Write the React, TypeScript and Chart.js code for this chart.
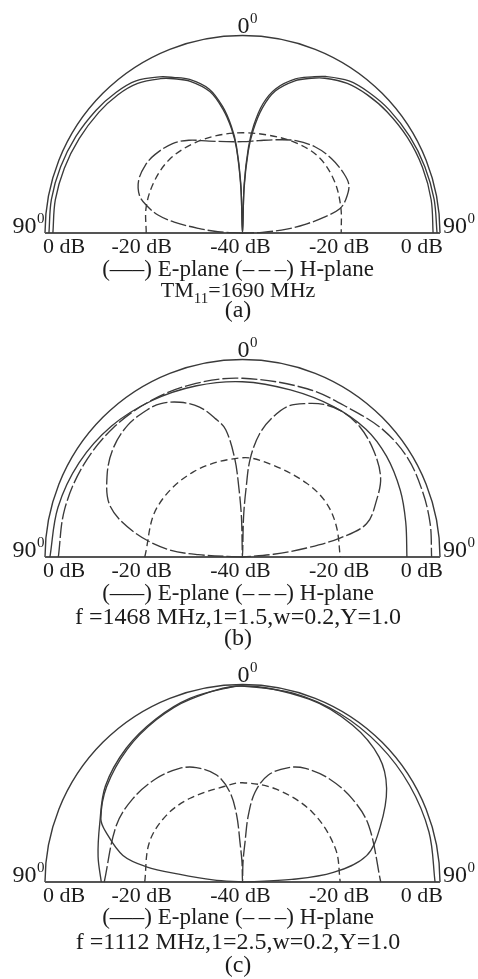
import React, { useEffect, useRef } from "react";
import { Chart, registerables } from "chart.js";

Chart.register(...registerables);

const INK = "#3a3a3a";
const TEXT = "#1c1c1c";
const SERIF = '"Liberation Serif", "Times New Roman", serif';

// Radial axis: -40 dB at the centre, 0 dB on the rim.
const DB_FLOOR = -40;
const DB_RIM = 0;

// Labels along the base line (value and side of the centre).
const tickDb = [0, -20, -40, -20, 0];
const tickSide = [-1, -1, 0, 1, 1];

const SOLID: number[] = [];
const DASH = [7, 4];
const LONG_DASH = [16, 3];

// (a) TM11 mode, 1690 MHz
const aE1Ang = [-90, -80, -70, -60, -50, -42, -35, -28, -24, -19, -13, -9, -6, -4, -2, 0, 2, 4, 6, 9, 13, 19, 24, 28, 35, 42, 50, 60, 70, 80, 90];
const aE1Db = [-0.8, -0.7, -0.8, -1.0, -1.3, -1.7, -2.4, -4.2, -5.5, -7.1, -10.1, -14, -18.2, -22.3, -30, -40, -30, -22.5, -18, -13.5, -10, -7, -5.4, -4.1, -2.4, -1.7, -1.2, -0.9, -0.7, -0.6, -0.6];
const aE2Ang = aE1Ang;
const aE2Db = [-1.6, -1.5, -1.6, -1.8, -2.0, -2.3, -3.0, -4.6, -5.8, -7.5, -10.6, -14.6, -18.8, -23, -31, -40, -31, -23.5, -19, -14.4, -10.5, -7.4, -5.7, -4.5, -3.0, -2.3, -1.8, -1.4, -1.2, -1.2, -1.4];
const aH1Ang = [-90, -75, -60, -45, -30, -15, 0, 15, 30, 45, 60, 75, 90];
const aH1Db = [-20.5, -19.8, -19.3, -19.0, -19.3, -19.6, -19.7, -19.5, -18.8, -18.2, -18.6, -19.4, -20.0];
const aH2Ang = [-90, -87, -84, -81, -78, -74, -70, -63, -55, -48, -38, -30, -20, -10, 0, 10, 20, 30, 40, 50, 60, 66, 72, 76, 79, 82, 85, 88, 90];
const aH2Db = [-40, -35, -31, -26, -22.5, -19.8, -17.8, -16.4, -16.0, -16.2, -17.0, -18.3, -20.2, -21.2, -21.5, -21, -19.9, -18.4, -17.2, -16.5, -16.2, -16.4, -18, -19.7, -23, -27, -31, -36, -40];

// (b) f = 1468 MHz
const bEAng = [-90, -75, -60, -45, -30, -15, 0, 16, 31, 44, 55, 67, 78, 90];
const bEDb = [-1.0, -1.3, -1.8, -2.5, -3.4, -4.1, -4.5, -4.8, -4.4, -4.0, -4.4, -5.3, -6.2, -6.7];
const bH1Ang = [-90, -75, -60, -45, -30, -15, 0, 21, 36, 48, 59, 70, 80, 90];
const bH1Db = [-2.7, -2.7, -2.8, -3.0, -3.3, -3.6, -3.8, -3.5, -2.9, -1.6, -1.0, -1.2, -1.4, -1.7];
const bH2Ang = [-90, -87, -84, -77, -69, -59, -50, -41, -33, -28, -22, -16, -11, -7.5, -4.5, -3, -1.5, 0, 1.5, 3, 4.5, 8, 12.4, 17, 22.7, 28, 34, 42, 51, 60, 67, 75, 79, 82, 85, 90];
const bH2Db = [-40, -31, -24.6, -17.4, -11.3, -8.0, -5.8, -4.6, -4.5, -4.8, -6.2, -8.4, -11.5, -14, -20, -26, -32, -40, -32, -26, -20, -14.7, -10.9, -8, -6.3, -5, -4.3, -4.5, -5.8, -7.7, -10.5, -14, -19.9, -26.9, -33.7, -40];
const bDomeAng = [-90, -60, -30, 0, 18, 41, 57, 72, 90];
const bDomeDb = [-20.2, -20, -20.1, -19.9, -20.4, -20.2, -19.8, -20, -20.2];

// (c) f = 1112 MHz
const cE1Ang = [-90, -80, -68, -55, -41, -28, -16, -3, 0, 15, 30, 45, 60, 75, 90];
const cE1Db = [-11.4, -10.3, -8.8, -6.1, -4.1, -2.6, -1.3, -0.4, -0.3, -0.4, -0.6, -0.8, -0.9, -0.9, -1.0];
const cE2Ang = [-90, -86, -83, -81, -77.5, -70, -66, -55, -41, -28, -16, 0, 20, 35, 47.5, 57, 68, 78, 84, 87, 90];
const cE2Db = [-40, -34, -27, -20.3, -15.2, -10.6, -8.6, -6.4, -4.4, -2.8, -1.5, -0.3, -0.6, -1.2, -2.5, -5.2, -9.9, -14.3, -21.5, -30, -40];
const cH1Ang = [-90, -66, -53, -40, -29, -22, -13.6, -8, -5, -3.6, -1.5, 0, 1.5, 3.6, 5, 8, 13.6, 22, 29, 40, 53, 66, 90];
const cH1Db = [-12, -12, -12.1, -12.7, -13.7, -15, -17.7, -21.6, -26.4, -32, -36, -40, -36, -32, -26.4, -21.6, -17.7, -15, -13.7, -12.7, -12.1, -12, -12];
const cDomeAng = [-90, -67, -49, -32, -11, 0, 20, 45, 70, 90];
const cDomeDb = [-20.2, -19.5, -19.5, -20, -20.3, -19.9, -20, -20, -20, -20.2];

type Curve = { ang: number[]; db: number[]; dash: number[] };

const panelA: Curve[] = [
  { ang: aE1Ang, db: aE1Db, dash: SOLID },
  { ang: aE2Ang, db: aE2Db, dash: SOLID },
  { ang: aH1Ang, db: aH1Db, dash: DASH },
  { ang: aH2Ang, db: aH2Db, dash: LONG_DASH },
];
const panelB: Curve[] = [
  { ang: bEAng, db: bEDb, dash: SOLID },
  { ang: bH1Ang, db: bH1Db, dash: LONG_DASH },
  { ang: bH2Ang, db: bH2Db, dash: LONG_DASH },
  { ang: bDomeAng, db: bDomeDb, dash: DASH },
];
const panelC: Curve[] = [
  { ang: cE1Ang, db: cE1Db, dash: SOLID },
  { ang: cE2Ang, db: cE2Db, dash: SOLID },
  { ang: cH1Ang, db: cH1Db, dash: LONG_DASH },
  { ang: cDomeAng, db: cDomeDb, dash: DASH },
];

function radius(db: number): number {
  return Math.max(0, (db - DB_FLOOR) / (DB_RIM - DB_FLOOR));
}

function toPoints(ang: number[], db: number[]) {
  return ang.map((a, i) => {
    const r = radius(db[i]);
    const t = (a * Math.PI) / 180;
    return { x: r * Math.sin(t), y: r * Math.cos(t) };
  });
}

// Angle label with a small raised "0" used as the degree mark.
function drawDegree(ctx: CanvasRenderingContext2D, text: string, x: number, y: number, align: "left" | "right" | "center") {
  ctx.font = `24px ${SERIF}`;
  const w = ctx.measureText(text).width;
  ctx.font = `15px ${SERIF}`;
  const sw = ctx.measureText("0").width;
  let left = x;
  if (align === "center") left = x - w / 2;
  if (align === "right") left = x - w - sw;
  ctx.textAlign = "left";
  ctx.font = `24px ${SERIF}`;
  ctx.fillText(text, left, y);
  ctx.font = `15px ${SERIF}`;
  ctx.fillText("0", left + w + 0.5, y - 10);
}

const polarFrame = {
  id: "polarFrame",
  beforeDatasetsDraw(chart: any) {
    const { ctx } = chart;
    const xs = chart.scales.x;
    const ys = chart.scales.y;
    const cx = xs.getPixelForValue(0);
    const cy = ys.getPixelForValue(0);
    const R = xs.getPixelForValue(1) - cx;
    ctx.save();
    ctx.strokeStyle = INK;
    ctx.lineWidth = 1.4;
    ctx.beginPath();
    ctx.arc(cx, cy, R, Math.PI, 2 * Math.PI);
    ctx.stroke();
    ctx.strokeStyle = "#555";
    ctx.lineWidth = 1.8;
    ctx.beginPath();
    ctx.moveTo(cx - R, cy);
    ctx.lineTo(cx + R, cy);
    ctx.stroke();
    ctx.restore();
  },
  afterDraw(chart: any) {
    const { ctx } = chart;
    const xs = chart.scales.x;
    const ys = chart.scales.y;
    const cx = xs.getPixelForValue(0);
    const cy = ys.getPixelForValue(0);
    const R = xs.getPixelForValue(1) - cx;
    ctx.save();
    ctx.fillStyle = TEXT;
    ctx.textBaseline = "alphabetic";
    ctx.font = `22px ${SERIF}`;
    tickDb.forEach((db, i) => {
      const side = tickSide[i];
      const px = xs.getPixelForValue(side * radius(db));
      const label = `${db} dB`;
      if (side < 0 && db === DB_RIM) {
        ctx.textAlign = "left";
        ctx.fillText(label, px - 2, cy + 19.5);
      } else if (side > 0 && db === DB_RIM) {
        ctx.textAlign = "right";
        ctx.fillText(label, px + 3, cy + 19.5);
      } else {
        ctx.textAlign = "center";
        ctx.fillText(label, px - 2, cy + 19.5);
      }
    });
    drawDegree(ctx, "0", cx + 1, ys.getPixelForValue(1) - 3, "center");
    drawDegree(ctx, "90", cx - R - 1, cy, "right");
    drawDegree(ctx, "90", cx + R + 3, cy, "left");
    ctx.restore();
  },
};

const W = 478;

type Line = { content: React.ReactNode; size: number; offset: number };

function PolarPanel(props: { curves: Curve[]; base: number; lines: Line[] }) {
  const ref = useRef<HTMLCanvasElement>(null);
  const top = props.base - 233;
  const height = 263;
  useEffect(() => {
    const chart = new Chart(ref.current as HTMLCanvasElement, {
      type: "scatter",
      data: {
        datasets: props.curves.map((c) => ({
          data: toPoints(c.ang, c.db),
          showLine: true,
          borderColor: INK,
          borderWidth: 1.35,
          borderDash: c.dash,
          pointRadius: 0,
          tension: 0.35,
          fill: false,
          clip: false as any,
        })),
      },
      options: {
        responsive: false,
        animation: false,
        events: [],
        layout: { padding: { left: 45, right: 38, top: 35.5, bottom: 30 } },
        scales: {
          x: { type: "linear", min: -1, max: 1, display: false },
          y: { type: "linear", min: 0, max: 1, display: false },
        },
        plugins: { legend: { display: false }, tooltip: { enabled: false } },
      },
      plugins: [polarFrame as any],
    });
    return () => chart.destroy();
  }, []);
  return (
    <>
      <canvas
        ref={ref}
        width={W}
        height={height}
        style={{ position: "absolute", left: 0, top, width: W, height }}
      />
      {props.lines.map((line, i) => (
        <div
          key={i}
          style={{
            position: "absolute",
            left: 0,
            width: W - 2,
            top: props.base + line.offset - 0.8375 * line.size,
            textAlign: "center",
            fontFamily: SERIF,
            fontSize: line.size,
            lineHeight: `${line.size}px`,
            color: TEXT,
            whiteSpace: "nowrap",
          }}
        >
          {line.content}
        </div>
      ))}
    </>
  );
}

const legendText = "(\u2014\u2013) E-plane (\u2013\u2009\u2013\u2009\u2013) H-plane";

export default function App() {
  return (
    <div style={{ position: "absolute", left: 0, top: 0, width: W, height: 979, background: "#fff", overflow: "hidden" }}>
      <PolarPanel
        curves={panelA}
        base={233}
        lines={[
          { content: legendText, size: 23, offset: 43 },
          {
            content: (
              <span>
                TM<sub style={{ fontSize: 15, verticalAlign: "-6px", lineHeight: 0 }}>11</sub>=1690 MHz
              </span>
            ),
            size: 22,
            offset: 64,
          },
          { content: "(a)", size: 24, offset: 84 },
        ]}
      />
      <PolarPanel
        curves={panelB}
        base={557}
        lines={[
          { content: legendText, size: 23, offset: 43 },
          { content: "f =1468 MHz,1=1.5,w=0.2,Y=1.0", size: 24, offset: 67 },
          { content: "(b)", size: 24, offset: 88 },
        ]}
      />
      <PolarPanel
        curves={panelC}
        base={882}
        lines={[
          { content: legendText, size: 23, offset: 42 },
          { content: "f =1112 MHz,1=2.5,w=0.2,Y=1.0", size: 24, offset: 67 },
          { content: "(c)", size: 24, offset: 90 },
        ]}
      />
    </div>
  );
}
